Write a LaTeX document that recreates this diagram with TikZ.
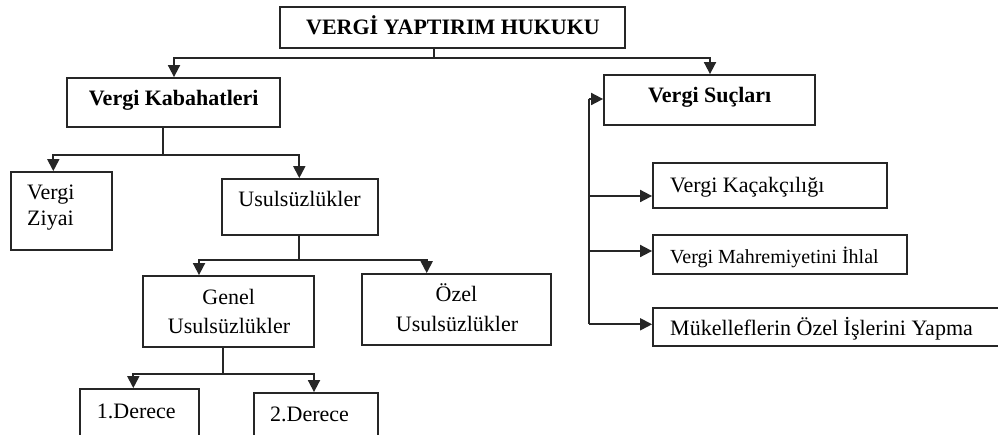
\documentclass[tikz,border=0pt]{standalone}
\usepackage{fontspec}
\setmainfont{Liberation Serif}
\usetikzlibrary{arrows.meta}
\begin{document}
\begin{tikzpicture}[x=1pt,y=-1pt,
  box/.style={draw=black!85,line width=1.8pt,inner sep=0pt,rectangle},
  txt/.style={inner sep=0pt,font=\fontsize{22}{27}\selectfont},
  btxt/.style={inner sep=0pt,font=\fontsize{22}{27}\selectfont\bfseries},
  stxt/.style={inner sep=0pt,font=\fontsize{20}{24}\selectfont},
  conn/.style={line width=1.8pt,draw=black!85},
  arr/.style={conn,-{Triangle[length=12pt,width=12pt]}}]
\clip (0,0) rectangle (998,435);
\fill[white] (0,0) rectangle (998,435);
% boxes
\node[box,minimum width=345pt,minimum height=41pt] (top) at (452.5,27.5) {};
\node[box,minimum width=213pt,minimum height=49pt] (kab) at (173.5,102.5) {};
\node[box,minimum width=211pt,minimum height=50pt] (suc) at (709.5,100) {};
\node[box,minimum width=101pt,minimum height=78pt] (ziy) at (61.5,211) {};
\node[box,minimum width=156pt,minimum height=56pt] (usul) at (300,207) {};
\node[box,minimum width=171pt,minimum height=71pt] (gen) at (228.5,311.5) {};
\node[box,minimum width=189pt,minimum height=71pt] (oz) at (456.5,309.5) {};
\node[box,minimum width=119pt,minimum height=70pt] (d1) at (139.5,424) {};
\node[box,minimum width=124pt,minimum height=70pt] (d2) at (316,428) {};
\node[box,minimum width=234pt,minimum height=45pt] (kac) at (770,185.5) {};
\node[box,minimum width=254pt,minimum height=39pt] (mah) at (780,254.5) {};
\node[box,minimum width=357pt,minimum height=38pt] (muk) at (831.5,327) {};
% texts
\node[btxt,anchor=base] (ttop) at (453,35) {VERGİ YAPTIRIM HUKUKU};
\node[btxt,anchor=base] (tkab) at (173.7,106) {Vergi Kabahatleri};
\node[btxt,anchor=base] (tsuc) at (709.7,103) {Vergi Suçları};
\node[txt,anchor=base west] (tziy1) at (27,200) {Vergi};
\node[txt,anchor=base west] (tziy2) at (27,226) {Ziyai};
\node[txt,anchor=base] (tusul) at (299.5,207) {Usulsüzlükler};
\node[txt,anchor=base] (tgen1) at (228.7,305) {Genel};
\node[txt,anchor=base] (tgen2) at (229,334) {Usulsüzlükler};
\node[txt,anchor=base] (toz1) at (456.5,302) {Özel};
\node[txt,anchor=base] (toz2) at (457,332) {Usulsüzlükler};
\node[txt,anchor=base west] (td1) at (96.7,418) {1.Derece};
\node[txt,anchor=base west] (td2) at (270,421.7) {2.Derece};
\node[txt,anchor=base west] (tkac) at (670,192.7) {Vergi Kaçakçılığı};
\node[stxt,anchor=base west] (tmah) at (670,263.3) {Vergi Mahremiyetini İhlal};
\node[txt,anchor=base west] (tmuk) at (670,335) {Mükelleflerin Özel İşlerini Yapma};
% connector coordinates
\coordinate (j1) at (434,58);
\coordinate (j2) at (163.3,155);
\coordinate (j3) at (299,260);
\coordinate (j4) at (222.7,374);
% top
\draw[conn] (top.south -| j1) -- (j1);
\draw[arr] (j1) -| (kab.north -| 174,0);
\draw[arr] (j1) -| (suc.north -| 710,0);
% kabahatleri
\draw[conn] (kab.south -| j2) -- (j2);
\draw[arr] (j2) -| (ziy.north -| 53.3,0);
\draw[arr] (j2) -| (usul.north -| 299.3,0);
% usulsuzlukler
\draw[conn] (usul.south -| j3) -- (j3);
\draw[arr] (j3) -| (gen.north -| 199,0);
\draw[arr] (j3) -| (oz.north -| 426.7,0);
% genel
\draw[conn] (gen.south -| j4) -- (j4);
\draw[arr] (j4) -| (d1.north -| 133.3,0);
\draw[arr] (j4) -| (d2.north -| 314,0);
% suclari
\coordinate (vtop) at (588.7,99);
\coordinate (vk) at (588.7,196);
\coordinate (vm) at (588.7,251);
\coordinate (vb) at (588.7,324.3);
\draw[conn] (vtop) -- (vb);
\draw[arr] (vtop) -- (suc.west |- vtop);
\draw[arr] (vk) -- (kac.west |- vk);
\draw[arr] (vm) -- (mah.west |- vm);
\draw[arr] (vb) -- (muk.west |- vb);
\end{tikzpicture}
\end{document}
